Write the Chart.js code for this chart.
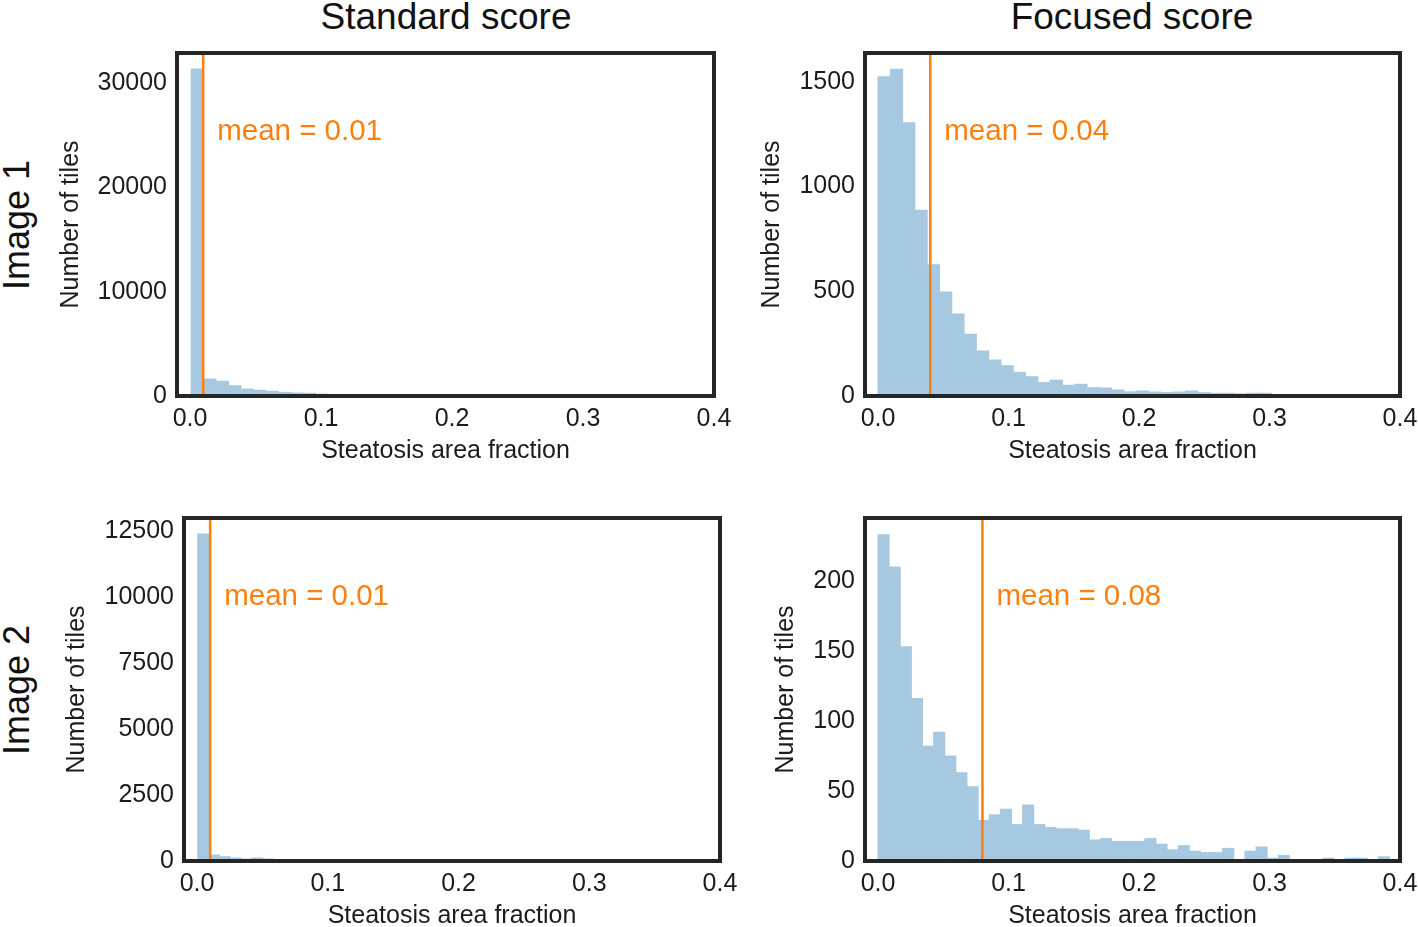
<!DOCTYPE html>
<html>
<head>
<meta charset="utf-8">
<script src="https://cdn.jsdelivr.net/npm/chart.js@4"></script>
<style>
body { margin: 0; background: #fff; width: 1418px; height: 927px; overflow: hidden; position: relative;
       font-family: "Liberation Sans", Arial, sans-serif; color: #111; }
.col { position: absolute; top: -2px; font-size: 37px; line-height: 1; transform: translateX(-50%); white-space: nowrap; }
.row { position: absolute; font-size: 36px; line-height: 1; transform: translate(-50%, -50%) rotate(-90deg); white-space: nowrap; }
canvas { position: absolute; }
</style>
</head>
<body>
<div class="col" style="left:446px">Standard score</div>
<div class="col" style="left:1132px">Focused score</div>
<div class="row" style="left:17px;top:225px">Image 1</div>
<div class="row" style="left:17px;top:690px">Image 2</div>

<canvas id="G1" width="697" height="428" style="left:47px;top:38px"></canvas>
<canvas id="G2" width="683" height="428" style="left:735px;top:38px"></canvas>
<canvas id="G3" width="696" height="428" style="left:54px;top:503px"></canvas>
<canvas id="G4" width="683" height="428" style="left:735px;top:503px"></canvas>

<script>
// tick labels
const xTicks = [0, 0.1, 0.2, 0.3, 0.4];
const yTicksStd1 = [0, 10000, 20000, 30000];
const yTicksFoc1 = [0, 500, 1000, 1500];
const yTicksStd2 = [0, 2500, 5000, 7500, 10000, 12500];
const yTicksFoc2 = [0, 50, 100, 150, 200];

// histogram bins (start, width) and counts per bin
const binsStd1 = [0.0008, 0.0095];
const countsStd1 = [31350, 1630, 1410, 990, 670, 550, 450, 350, 290, 260, 180, 140, 110, 90, 70, 55, 45, 35, 28, 22, 18, 14, 11, 9, 7, 6, 5, 4, 3, 3, 2, 2, 1, 1, 1, 1, 1, 0, 1, 0, 1];
const binsFoc1 = [0.0, 0.00942];
const countsFoc1 = [1525, 1560, 1305, 887, 627, 497, 392, 295, 215, 172, 145, 113, 92, 64, 76, 51, 56, 40, 38, 29, 20, 24, 19, 16, 19, 24, 16, 13, 13, 10, 13, 13, 4, 3, 2, 2, 1, 2, 1, 1, 0, 1];
const binsStd2 = [0.0005, 0.0083];
const countsStd2 = [12386, 227, 163, 114, 76, 114, 76, 45, 30, 20, 15, 12, 9, 7, 5, 4, 3, 2, 2, 1, 1, 1, 0, 1];
const binsFoc2 = [0.0, 0.00852];
const countsFoc2 = [233, 210, 153, 116, 82, 92, 75, 63, 53, 29, 33, 37, 26, 40, 26, 24, 23, 23, 22, 15, 16, 14, 14, 14, 16, 12, 8, 11, 7, 6, 6, 9, 0, 7, 10, 2, 4, 0, 0, 0, 2, 0, 2, 2, 0, 3];

// means
const means = [0.01, 0.04, 0.01, 0.08];

const FONT = '"Liberation Sans", Arial, sans-serif';
const INK = '#1c1c1c';

const meanLine = {
    id: 'meanLine',
    afterDatasetsDraw(chart, args, opts) {
        const ctx = chart.ctx, a = chart.chartArea;
        const px = chart.scales.x.getPixelForValue(opts.value);
        ctx.save();
        ctx.strokeStyle = '#ff7f0e';
        ctx.lineWidth = 2.5;
        ctx.beginPath();
        ctx.moveTo(px, a.top);
        ctx.lineTo(px, a.bottom);
        ctx.stroke();
        ctx.fillStyle = '#ff7f0e';
        ctx.font = '29.5px ' + FONT;
        ctx.textBaseline = 'alphabetic';
        ctx.fillText('mean = ' + opts.value.toFixed(2), px + 14, a.top + 87);
        // axes frame
        ctx.strokeStyle = '#262626';
        ctx.lineWidth = 4;
        ctx.strokeRect(a.left, a.top, a.right - a.left, a.bottom - a.top);
        ctx.restore();
    }
};

function histogram(id, bins, counts, mean, yMax, yTicks, yTitlePad, rightPad) {
    const points = counts.map((c, i) => ({ x: bins[0] + (i + 0.5) * bins[1], y: c }));
    new Chart(document.getElementById(id), {
        type: 'bar',
        data: {
            datasets: [{
                data: points,
                backgroundColor: '#a6c9e1',
                borderWidth: 0,
                barPercentage: 1,
                categoryPercentage: 1,
                inflateAmount: 0.5
            }]
        },
        options: {
            responsive: false,
            animation: false,
            devicePixelRatio: 1,
            layout: { padding: { left: 0, top: 15, right: rightPad, bottom: 0 } },
            plugins: {
                legend: { display: false },
                tooltip: { enabled: false },
                meanLine: { value: mean }
            },
            scales: {
                x: {
                    type: 'linear',
                    min: -0.01,
                    max: 0.4,
                    offset: false,
                    grid: { display: false, drawTicks: false },
                    border: { display: false },
                    afterBuildTicks: s => { s.ticks = xTicks.map(v => ({ value: v })); },
                    afterFit: s => { s.height = 70; s.paddingLeft = 0; s.paddingRight = 0; },
                    ticks: {
                        autoSkip: false, maxRotation: 0, padding: 8, color: INK,
                        font: { family: FONT, size: 25 },
                        callback: v => v.toFixed(1)
                    },
                    title: {
                        display: true, text: 'Steatosis area fraction', color: INK,
                        font: { family: FONT, size: 25 }, padding: { top: 0, bottom: 0 }
                    }
                },
                y: {
                    min: 0,
                    max: yMax,
                    grid: { display: false, drawTicks: false },
                    border: { display: false },
                    afterBuildTicks: s => { s.ticks = yTicks.map(v => ({ value: v })); },
                    afterFit: s => { s.width = 130; s.paddingTop = 0; s.paddingBottom = 0; },
                    ticks: {
                        padding: 10, color: INK,
                        font: { family: FONT, size: 25 },
                        callback: v => String(v)
                    },
                    title: {
                        display: true, text: 'Number of tiles', color: INK,
                        font: { family: FONT, size: 25 }, padding: { top: yTitlePad, bottom: 0 }
                    }
                }
            }
        },
        plugins: [meanLine]
    });
}

histogram('G1', binsStd1, countsStd1, means[0], 32890, yTicksStd1, 9, 30);
histogram('G2', binsFoc1, countsFoc1, means[1], 1638, yTicksFoc1, 22, 18);
histogram('G3', binsStd2, countsStd2, means[2], 12992, yTicksStd2, 8, 30);
histogram('G4', binsFoc2, countsFoc2, means[3], 245, yTicksFoc2, 36, 18);
</script>
</body>
</html>
